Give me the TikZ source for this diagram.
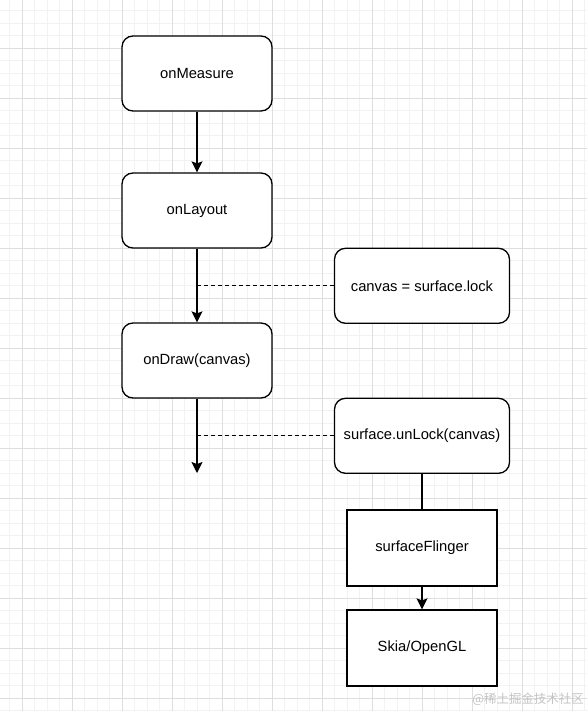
\documentclass[tikz,border=0pt]{standalone}
\usepackage{fontspec}
\setmainfont{Liberation Sans}
\newfontfamily\cjkfont{Noto Sans CJK SC}
\usetikzlibrary{arrows.meta}
\definecolor{gridminor}{HTML}{F2F2F2}
\definecolor{gridmajor}{HTML}{DEDEDE}
\definecolor{wmark}{HTML}{C4C4C4}
\tikzset{
  rbox/.style={draw=black, line width=1.3bp, rounded corners=11bp, fill=white,
    minimum width=150bp, minimum height=75bp, inner sep=0pt,
    font=\fontsize{14.8}{17}\selectfont},
  wbox/.style={rbox, minimum width=175bp},
  sbox/.style={draw=black, line width=1.3bp, fill=white,
    minimum width=150bp, minimum height=76bp, inner sep=0pt,
    font=\fontsize{14.8}{17}\selectfont},
  conn/.style={line width=1.3bp, -{Stealth[length=11bp,width=11bp,inset=2bp]}},
  plainline/.style={line width=1.3bp},
  dashline/.style={line width=1.1bp, dash pattern=on 4bp off 3bp}
}
\begin{document}
\begin{tikzpicture}[x=1bp,y=-1bp]
\useasboundingbox (0,0) rectangle (587,711);
\fill[white] (0,0) rectangle (587,711);
% grid
\foreach \i in {0,...,47} {
  \pgfmathsetmacro\xx{9.8+12.5*\i}
  \draw[gridminor, line width=0.8bp] (\xx,0) -- (\xx,711);
}
\foreach \i in {0,...,57} {
  \pgfmathsetmacro\yy{-1.7+12.5*\i}
  \draw[gridminor, line width=0.8bp] (0,\yy) -- (587,\yy);
}
\foreach \i in {0,...,11} {
  \pgfmathsetmacro\xx{22.3+50*\i}
  \draw[gridmajor, line width=0.8bp] (\xx,0) -- (\xx,711);
}
\foreach \i in {0,...,14} {
  \pgfmathsetmacro\yy{-1.7+50*\i}
  \draw[gridmajor, line width=0.8bp] (0,\yy) -- (587,\yy);
}
% nodes
\node[rbox] (measure) at (197,73.5) {\raisebox{-1bp}{onMeasure}};
\node[rbox] (layout) at (197,210.5) {\raisebox{-1bp}{onLayout}};
\node[rbox] (draw) at (197,360.5) {\raisebox{-1bp}{onDraw(canvas)}};
\node[wbox] (lock) at (422,285.8) {canvas = surface.lock};
\node[wbox] (unlock) at (422,435.8) {surface.unLock(canvas)};
\node[sbox] (flinger) at (422,548) {\raisebox{-1bp}{surfaceFlinger}};
\node[sbox] (skia) at (422,648) {\raisebox{-1bp}{Skia/OpenGL}};
\coordinate (end) at (197,473);
% connectors
\draw[conn] (measure) -- (layout);
\draw[conn] (layout) -- (draw);
\draw[conn] (draw) -- (end);
\draw[dashline] (lock.west -| layout.south) -- (lock.west);
\draw[dashline] (unlock.west -| draw.south) -- (unlock.west);
\draw[plainline] (unlock) -- (flinger);
\draw[conn] (flinger) -- (skia);
% watermark
\node[anchor=east, inner sep=0pt, text=wmark, font=\cjkfont\fontsize{12.5}{15}\selectfont] (wm) at (584,699) {@稀土掘金技术社区};
\end{tikzpicture}
\end{document}
